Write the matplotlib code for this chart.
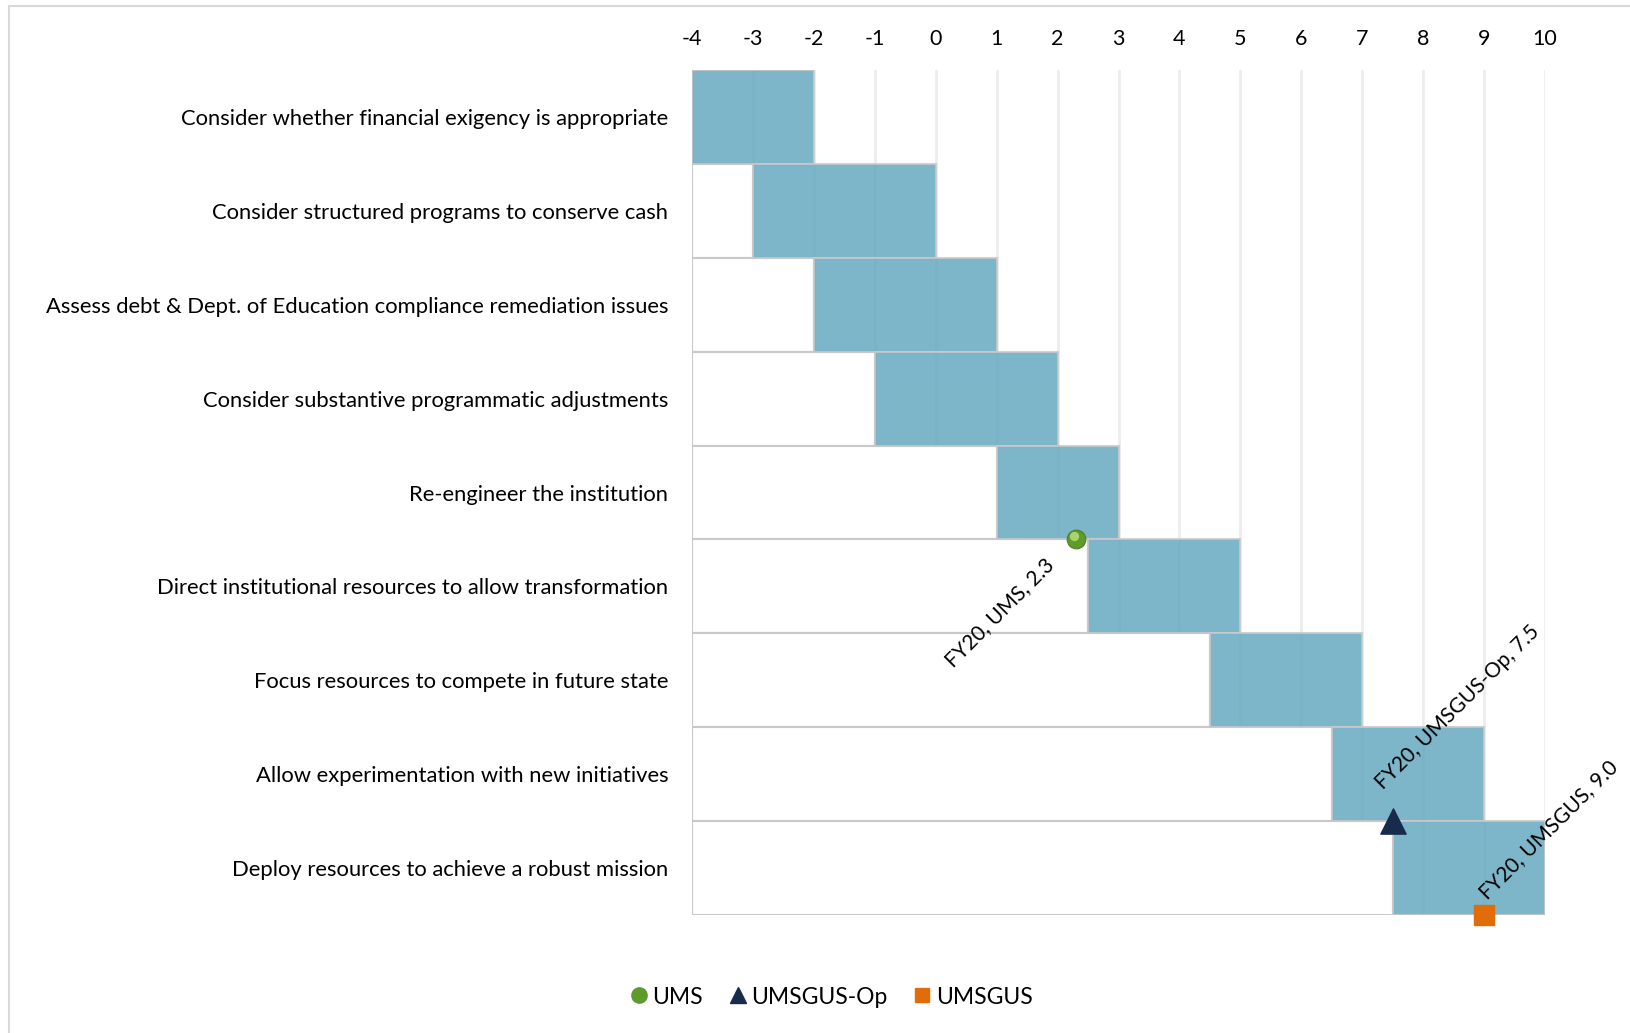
import numpy as np
import matplotlib
matplotlib.use("Agg")
import matplotlib.pyplot as plt
from matplotlib.lines import Line2D

plt.rcParams['font.family'] = ['Lato', 'DejaVu Sans']

# phases of the response, top to bottom
tasks = [
    "Consider whether financial exigency is appropriate",
    "Consider structured programs to conserve cash",
    "Assess debt & Dept. of Education compliance remediation issues",
    "Consider substantive programmatic adjustments",
    "Re-engineer the institution",
    "Direct institutional resources to allow transformation",
    "Focus resources to compete in future state",
    "Allow experimentation with new initiatives",
    "Deploy resources to achieve a robust mission",
]
phase_start = [-4, -3, -2, -1, 1, 2.5, 4.5, 6.5, 7.5]
phase_end = [-2, 0, 1, 2, 3, 5, 7, 9, 10]

# FY20 scores
score_names = ["UMS", "UMSGUS-Op", "UMSGUS"]
score_vals = [2.3, 7.5, 9.0]
score_rows = [4.5, 7.5, 8.5]

xmin, xmax = -4, 10

fig = plt.figure(figsize=(16.3, 10.33), dpi=100)
ax = fig.add_axes([692/1630, 1 - 915/1033, (1545-692)/1630, (915-70)/1033])

y = np.arange(len(tasks))
start = np.array(phase_start, dtype=float)
end = np.array(phase_end, dtype=float)

edge = '#C9C9C9'
ax.barh(y, start - xmin, left=xmin, height=1.0, color='white',
        edgecolor=edge, linewidth=1.5, zorder=2)
ax.barh(y, end - start, left=start, height=1.0, color='#66A8C0', alpha=0.85,
        edgecolor=edge, linewidth=1.5, zorder=2)

for gx in range(xmin, xmax + 1):
    ax.axvline(gx, color='#EDEDED', lw=2.0, zorder=1)

ax.set_xlim(xmin, xmax)
ax.set_ylim(len(tasks) - 0.5, -0.5)
ax.set_xticks(range(xmin, xmax + 1))
ax.set_xticklabels([str(v) for v in range(xmin, xmax + 1)])
ax.xaxis.tick_top()
ax.set_yticks(y)
ax.set_yticklabels(tasks)
ax.tick_params(axis='x', length=0, pad=15, labelsize=15.5)
ax.tick_params(axis='y', length=0, pad=17, labelsize=15.8)
for s in ax.spines.values():
    s.set_visible(False)

# FY20 markers
ax.scatter([score_vals[0]], [score_rows[0]], s=180, color='#5E9A2C',
           edgecolor='#4A7F22', linewidth=0.8, zorder=5, clip_on=False)
ax.scatter([score_vals[0] - 0.03], [score_rows[0] - 0.04], s=45, color='#A8D46A',
           linewidth=0, zorder=6, clip_on=False)
ax.scatter([score_vals[1]], [score_rows[1]], s=330, marker='^', color='#172B4D',
           zorder=5, clip_on=False)
ax.scatter([score_vals[2]], [score_rows[2]], s=190, marker='s', color='#E36C0A',
           zorder=5, clip_on=False)

lab = [f"FY20, {n}, {v:.1f}" for n, v in zip(score_names, score_vals)]
ax.annotate(lab[0], (score_vals[0], score_rows[0]), xytext=(-18, -16),
            textcoords='offset points', rotation=45, rotation_mode='anchor',
            ha='right', va='center', fontsize=15, zorder=7)
ax.annotate(lab[1], (score_vals[1], score_rows[1]), xytext=(-5, 20),
            textcoords='offset points', rotation=45, rotation_mode='anchor',
            ha='left', va='bottom', fontsize=15, zorder=7)
ax.annotate(lab[2], (score_vals[2], score_rows[2]), xytext=(4, 9),
            textcoords='offset points', rotation=45, rotation_mode='anchor',
            ha='left', va='bottom', fontsize=15, zorder=7)

handles = [
    Line2D([], [], marker='o', ls='', color='#5E9A2C', markersize=11),
    Line2D([], [], marker='^', ls='', color='#172B4D', markersize=11),
    Line2D([], [], marker='s', ls='', color='#E36C0A', markersize=10),
]
fig.legend(handles, score_names, loc='center', ncol=3, frameon=False,
           bbox_to_anchor=(830/1630, 1 - 997/1033), fontsize=16.5,
           handletextpad=0.1, columnspacing=1.0, handlelength=1.0)

# outer frame
fig.add_artist(Line2D([9/1630, 9/1630], [0, 1 - 6/1033], transform=fig.transFigure,
                      color='#D9D9D9', lw=1.5))
fig.add_artist(Line2D([9/1630, 1], [1 - 6/1033, 1 - 6/1033], transform=fig.transFigure,
                      color='#D9D9D9', lw=1.5))

fig.savefig('out.png', dpi=100, facecolor='white')
